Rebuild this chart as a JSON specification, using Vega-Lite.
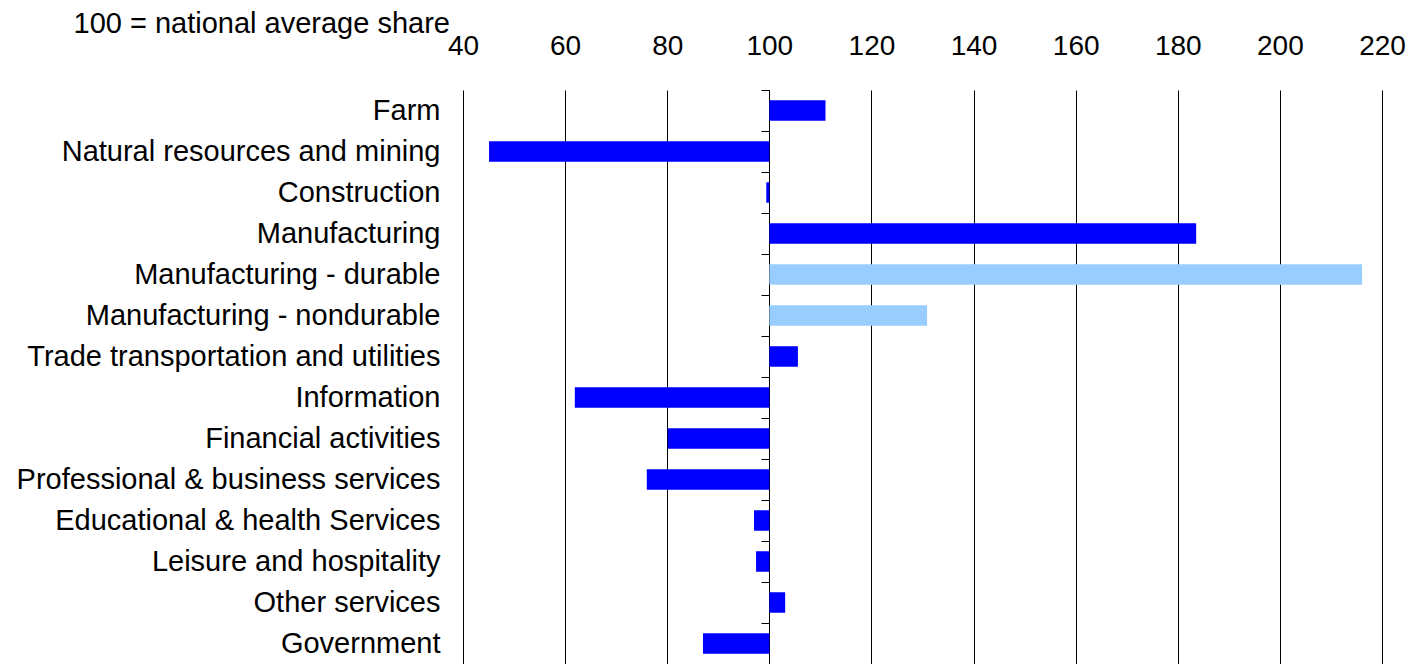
{
  "$schema": "https://vega.github.io/schema/vega-lite/v6.json",
  "width": 919,
  "height": 574,
  "autosize": {"type": "none"},
  "padding": {"left": 463, "top": 90, "right": 34, "bottom": 0},
  "background": "white",
  "config": {
    "view": {"stroke": null},
    "font": "Liberation Sans"
  },
  "data": {
    "values": [
      {"industry": "Farm", "value": 111, "type": "total"},
      {"industry": "Natural resources and mining", "value": 45.1, "type": "total"},
      {"industry": "Construction", "value": 99.4, "type": "total"},
      {"industry": "Manufacturing", "value": 183.6, "type": "total"},
      {"industry": "Manufacturing - durable", "value": 216.1, "type": "sub"},
      {"industry": "Manufacturing - nondurable", "value": 130.9, "type": "sub"},
      {"industry": "Trade transportation and utilities", "value": 105.6, "type": "total"},
      {"industry": "Information", "value": 61.9, "type": "total"},
      {"industry": "Financial activities", "value": 80.1, "type": "total"},
      {"industry": "Professional & business services", "value": 76, "type": "total"},
      {"industry": "Educational & health Services", "value": 97, "type": "total"},
      {"industry": "Leisure and hospitality", "value": 97.4, "type": "total"},
      {"industry": "Other services", "value": 103.1, "type": "total"},
      {"industry": "Government", "value": 87, "type": "total"}
    ]
  },
  "mark": {"type": "bar"},
  "encoding": {
    "y": {
      "field": "industry",
      "type": "nominal",
      "sort": null,
      "scale": {"paddingInner": 0.5, "paddingOuter": 0.25},
      "axis": {
        "title": null,
        "orient": "left",
        "offset": -306,
        "domain": true,
        "domainColor": "black",
        "domainWidth": 1,
        "ticks": true,
        "tickColor": "black",
        "tickSize": 8,
        "tickOffset": -20.5,
        "labelOffset": 20.5,
        "labelPadding": 321,
        "labelFontSize": 29,
        "labelColor": "black",
        "labelFont": "Liberation Sans",
        "labelLimit": 700
      }
    },
    "x": {
      "field": "value",
      "type": "quantitative",
      "scale": {"domain": [40, 220], "nice": false, "zero": false},
      "axis": {
        "orient": "top",
        "values": [40, 60, 80, 100, 120, 140, 160, 180, 200, 220],
        "grid": true,
        "gridColor": "black",
        "gridWidth": 1,
        "gridOpacity": 1,
        "domain": false,
        "ticks": false,
        "labelFlush": false,
        "labelOverlap": false,
        "labelBound": false,
        "labelPadding": 29.5,
        "labelFontSize": 28,
        "labelColor": "black",
        "labelFont": "Liberation Sans",
        "title": "100 = national average share",
        "titleFont": "Liberation Sans",
        "titleFontSize": 29,
        "titleFontWeight": "normal",
        "titleColor": "black",
        "titleAnchor": "start",
        "titleAlign": "left",
        "titleBaseline": "alphabetic",
        "titleX": -390,
        "titleY": -58
      }
    },
    "x2": {"datum": 100},
    "color": {
      "field": "type",
      "type": "nominal",
      "scale": {"domain": ["total", "sub"], "range": ["#0000FF", "#99CCFF"]},
      "legend": null
    }
  }
}
